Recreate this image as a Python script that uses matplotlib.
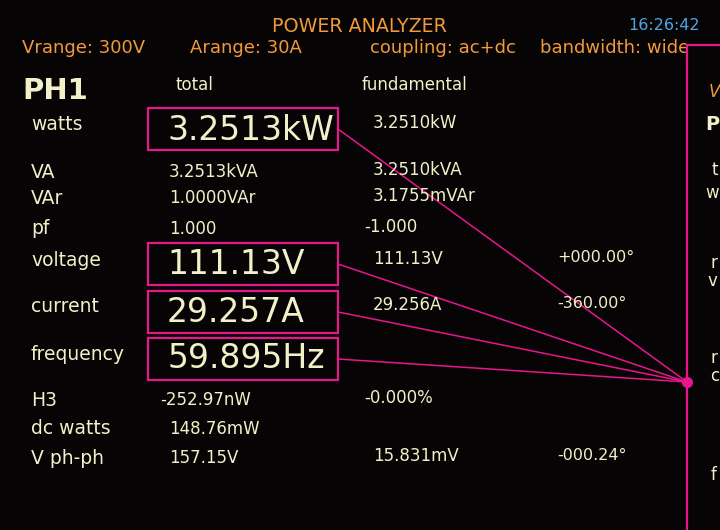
import matplotlib.pyplot as plt
from matplotlib.patches import Rectangle
from matplotlib import font_manager as fm

# ---- screen content ----
title = 'POWER ANALYZER'
clock = '16:26:42'
settings = ['Vrange: 300V', 'Arange: 30A', 'coupling: ac+dc', 'bandwidth: wide']
channel = 'PH1'
col_heads = ['total', 'fundamental']

row_labels = ['watts', 'VA', 'VAr', 'pf', 'voltage', 'current', 'frequency',
              'H3', 'dc watts', 'V ph-ph']
total_vals = ['3.2513kW', '3.2513kVA', '1.0000VAr', '1.000', '111.13V', '29.257A',
              '59.895Hz', '-252.97nW', '148.76mW', '157.15V']
fund_vals = ['3.2510kW', '3.2510kVA', '3.1755mVAr', '-1.000', '111.13V', '29.256A',
             '', '-0.000%', '', '15.831mV']
phase_vals = ['', '', '', '', '+000.00°', '-360.00°', '', '', '', '-000.24°']
big_rows = [0, 4, 5, 6]   # values shown large and boxed

# second panel on the right, only its first letters are visible
panel2_text = ['V', 'P', 't', 'w', 'r', 'v', 'r', 'c', 'f']

# ---- layout (screen pixels) ----
row_y = [125, 172, 198, 229, 261, 307, 354, 400, 429, 458]
big_y = [130, 265, 312, 359]
box_top = [108, 243, 291, 338]
panel2_y = [92, 125, 170, 193, 263, 281, 358, 376, 475]
panel2_x = [709, 705, 711, 705, 711, 708, 711, 710, 711]
panel2_style = ['o', 'big', 's', 's', 's', 's', 's', 's', 's']
settings_x = [22, 190, 370, 540]
hub = (687, 382)

BG = '#060404'
TXT = '#F2F0C8'
ORANGE = '#F29A3A'
BLUE = '#4FA6E6'
MAG = '#E8168C'

plt.rcParams['font.family'] = ['DejaVu Sans']

# the analyzer uses a narrow font for the big readings
installed = {f.name for f in fm.fontManager.ttflist}
big_font, big_size = 'DejaVu Sans', 23.8
for name, size in [('DejaVu Sans Condensed', 26.5), ('Liberation Sans Narrow', 29.5)]:
    if name in installed:
        big_font, big_size = name, size
        break

fig = plt.figure(figsize=(7.2, 5.3), dpi=100, facecolor=BG)
ax = fig.add_axes([0, 0, 1, 1])
ax.set_facecolor(BG)
ax.set_xlim(0, 720)
ax.set_ylim(530, 0)
ax.axis('off')

# header
ax.text(359, 27, title, color=ORANGE, fontsize=13.7, ha='center', va='center')
ax.text(700, 26, clock, color=BLUE, fontsize=11.5, ha='right', va='center')
for x, s in zip(settings_x, settings):
    ax.text(x, 48, s, color=ORANGE, fontsize=13, ha='left', va='center', zorder=1)

ax.text(22, 91, channel, color=TXT, fontsize=21, fontweight='bold', ha='left', va='center')
ax.text(175, 85, col_heads[0], color=TXT, fontsize=12, ha='left', va='center')
ax.text(362, 85, col_heads[1], color=TXT, fontsize=12, ha='left', va='center')


def put(x, y, s, **kw):
    # signed numbers hang the sign to the left of the column
    if s[:1] in '-+':
        x -= 9
    ax.text(x, y, s, color=TXT, ha='left', va='center', **kw)


for i, lab in enumerate(row_labels):
    ax.text(31, row_y[i], lab, color=TXT, fontsize=13.5, ha='left', va='center')
    if i in big_rows:
        k = big_rows.index(i)
        ax.text(167, big_y[k], total_vals[i], color=TXT, fontsize=big_size,
                family=big_font, ha='left', va='center')
        ax.add_patch(Rectangle((148, box_top[k]), 190, 42, fill=False,
                               ec=MAG, lw=1.6, zorder=3))
        ax.plot([338, hub[0]], [box_top[k] + 21, hub[1]], color=MAG, lw=1.1, zorder=3)
    else:
        put(169, row_y[i], total_vals[i], fontsize=12)
    if fund_vals[i]:
        put(373, row_y[i] - 2, fund_vals[i], fontsize=12)
    if phase_vals[i]:
        put(566, row_y[i] - 3, phase_vals[i], fontsize=11.5)

# right panel: opaque area, border and hub
ax.add_patch(Rectangle((hub[0], 45), 720 - hub[0], 485, fc=BG, ec='none', zorder=2))
ax.plot([720, hub[0], hub[0]], [45, 45, 530], color=MAG, lw=1.6, zorder=3,
        solid_joinstyle='miter', clip_on=False)
ax.plot(*hub, 'o', color=MAG, ms=7, zorder=4)

for x, y, s, st in zip(panel2_x, panel2_y, panel2_text, panel2_style):
    if st == 'o':
        ax.text(x, y, s, color=ORANGE, fontsize=12, style='italic',
                ha='left', va='center', zorder=5)
    elif st == 'big':
        ax.text(x, y, s, color=TXT, fontsize=14, fontweight='bold',
                ha='left', va='center', zorder=5)
    else:
        ax.text(x, y, s, color=TXT, fontsize=12, ha='left', va='center', zorder=5)

fig.savefig('out.png', dpi=100, facecolor=BG)
